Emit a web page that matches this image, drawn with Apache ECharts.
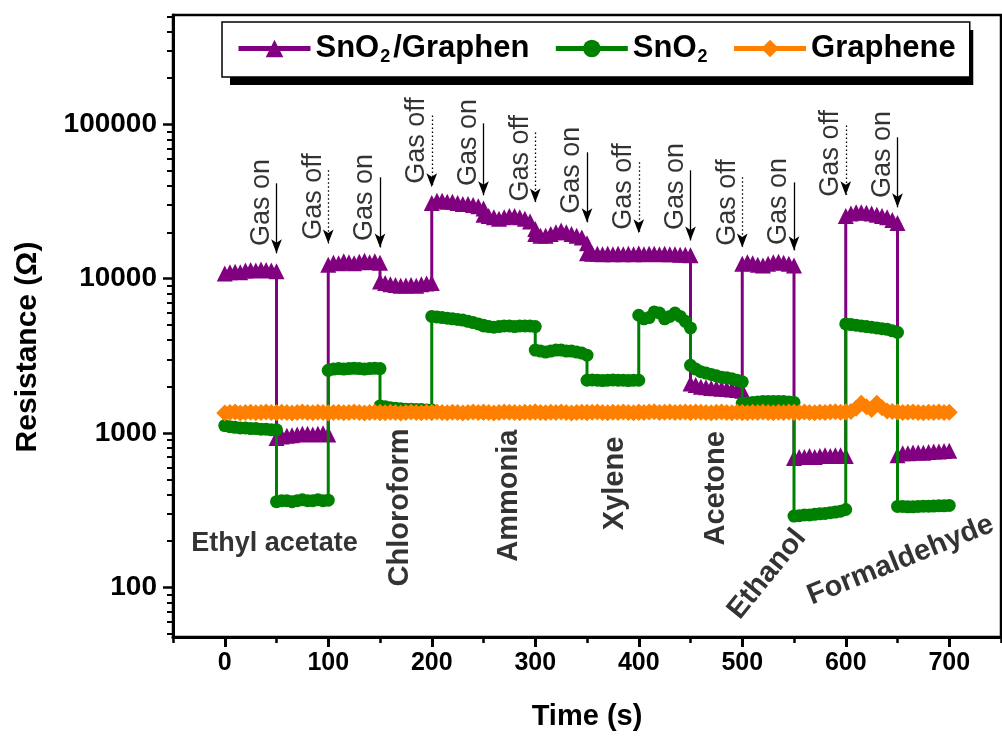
<!DOCTYPE html>
<html><head><meta charset="utf-8">
<script src="https://cdn.jsdelivr.net/npm/echarts@6/dist/echarts.min.js"></script>
<style>html,body{margin:0;padding:0;background:#fff}#c{width:1002px;height:737px}</style>
</head><body><div id="c"></div>
<script>
// ---- data ----
const segmentStarts = [0, 50, 100, 150, 200, 250, 300, 350, 400, 450, 500, 550, 600, 650];
const segmentOffsets = [0, 5, 10, 15, 20, 25, 30, 35, 40, 45, 50];

const compositeSegments = [ // SnO2/Graphen
  [10800, 11000, 11100, 11000, 11300, 11400, 11300, 11500, 11400, 11300, 11200],
  [930, 950, 960, 970, 980, 990, 990, 980, 990, 1000, 980],
  [12300, 12700, 12600, 13000, 12800, 12600, 12900, 13100, 12800, 13000, 12700],
  [9600, 9400, 9200, 9100, 9000, 9050, 9100, 9000, 9200, 9300, 9400],
  [31000, 32000, 32000, 31500, 31500, 31000, 30500, 30500, 30000, 29500, 28500],
  [26000, 25500, 25000, 24500, 25000, 25500, 25500, 25000, 24500, 23500, 21000],
  [19500, 19000, 19000, 19500, 20000, 20500, 20000, 19500, 19000, 18500, 17000],
  [14600, 14500, 14500, 14400, 14500, 14400, 14500, 14400, 14500, 14400, 14500],
  [14500, 14400, 14500, 14500, 14400, 14500, 14400, 14400, 14300, 14300, 14200],
  [2100, 2050, 2000, 1980, 1960, 1950, 1940, 1930, 1920, 1900, 1880],
  [12500, 12800, 12600, 12300, 12200, 12500, 12800, 12900, 12700, 12500, 12200],
  [690, 700, 700, 710, 700, 710, 720, 710, 720, 720, 710],
  [25500, 26500, 27000, 27000, 26800, 26500, 26000, 25500, 25000, 24000, 23000],
  [720, 740, 740, 750, 750, 745, 755, 760, 760, 765, 770]
];
const sno2Segments = [ // SnO2
  [1120, 1100, 1090, 1080, 1080, 1070, 1070, 1060, 1060, 1050, 1050],
  [360, 365, 365, 360, 365, 370, 365, 365, 370, 365, 368],
  [2550, 2600, 2620, 2600, 2620, 2630, 2620, 2600, 2620, 2630, 2620],
  [1500, 1480, 1460, 1450, 1440, 1430, 1430, 1420, 1420, 1410, 1410],
  [5700, 5650, 5600, 5550, 5500, 5450, 5400, 5300, 5200, 5100, 5000],
  [4950, 4900, 4850, 4900, 4950, 4950, 4900, 4950, 4950, 4950, 4900],
  [3450, 3400, 3350, 3400, 3450, 3450, 3400, 3400, 3350, 3300, 3200],
  [2200, 2210, 2200, 2190, 2200, 2210, 2200, 2200, 2190, 2200, 2200],
  [5800, 5500, 5600, 6100, 6000, 5500, 5700, 6000, 5700, 5300, 4800],
  [2750, 2600, 2500, 2450, 2400, 2350, 2300, 2280, 2250, 2200, 2150],
  [1560, 1570, 1580, 1590, 1600, 1600, 1600, 1600, 1600, 1590, 1580],
  [290, 292, 295, 295, 298, 300, 302, 305, 308, 312, 320],
  [5100, 5050, 5000, 4950, 4900, 4850, 4800, 4750, 4700, 4600, 4500],
  [335, 335, 333, 333, 335, 336, 336, 337, 338, 338, 340]
];
const grapheneSegments = [ // Graphene
  [1350, 1360, 1370, 1350, 1360, 1365, 1355, 1360, 1370, 1360, 1355],
  [1355, 1365, 1360, 1350, 1360, 1370, 1360, 1355, 1365, 1360, 1350],
  [1350, 1360, 1365, 1355, 1360, 1370, 1360, 1350, 1360, 1365, 1360],
  [1360, 1355, 1365, 1360, 1350, 1360, 1370, 1360, 1355, 1365, 1360],
  [1360, 1370, 1360, 1355, 1365, 1360, 1350, 1360, 1370, 1360, 1365],
  [1365, 1360, 1350, 1360, 1370, 1365, 1360, 1355, 1365, 1360, 1370],
  [1370, 1360, 1355, 1365, 1360, 1370, 1360, 1350, 1360, 1365, 1360],
  [1360, 1365, 1370, 1360, 1355, 1365, 1360, 1370, 1360, 1355, 1365],
  [1365, 1360, 1370, 1375, 1360, 1365, 1370, 1360, 1365, 1370, 1360],
  [1360, 1370, 1365, 1360, 1355, 1365, 1370, 1360, 1355, 1365, 1360],
  [1360, 1355, 1365, 1360, 1370, 1360, 1355, 1365, 1360, 1370, 1365],
  [1365, 1360, 1370, 1360, 1355, 1365, 1360, 1370, 1375, 1365, 1370],
  [1370, 1380, 1450, 1560, 1480, 1420, 1560, 1460, 1390, 1380, 1370],
  [1370, 1360, 1365, 1370, 1360, 1355, 1365, 1360, 1370, 1360, 1365]
];

const seriesNames = ['SnO2/Graphen', 'SnO2', 'Graphene'];
const seriesColors = ['#800080', '#008000', '#ff8000'];

const xMajorTicks = [0, 100, 200, 300, 400, 500, 600, 700];
const xMinorTicks = [-50, 50, 150, 250, 350, 450, 550, 650, 750];
const yMajorTicks = [100, 1000, 10000, 100000];
const yMinorTicks = [50, 60, 70, 80, 90, 200, 300, 400, 500, 600, 700, 800, 900,
  2000, 3000, 4000, 5000, 6000, 7000, 8000, 9000,
  20000, 30000, 40000, 50000, 60000, 70000, 80000, 90000,
  200000, 300000, 400000, 500000];

// gas switching annotations
const gasTimes   = [50, 100, 150, 200, 250, 300, 350, 400, 450, 500, 550, 600, 650];
const gasTexts   = ['Gas on', 'Gas off', 'Gas on', 'Gas off', 'Gas on', 'Gas off', 'Gas on', 'Gas off', 'Gas on', 'Gas off', 'Gas on', 'Gas off', 'Gas on'];
const gasLabelY  = [31200, 34100, 33600, 78700, 76400, 60300, 50400, 39600, 39600, 31200, 31700, 64900, 63900];
const arrowTop   = [41500, 50400, 45400, 114300, 101500, 88700, 65900, 56800, 50400, 45400, 42100, 98500, 82400];
const arrowBottom= [14600, 16900, 15960, 39100, 34700, 31200, 23200, 19700, 17700, 15960, 15270, 34700, 29000];

// analyte names
const analyteNames  = ['Ethyl acetate', 'Chloroform', 'Ammonia', 'Xylene', 'Acetone', 'Ethanol', 'Formaldehyde'];
const analyteX      = [48, 169, 275, 377, 475, 524, 653];
const analyteY      = [193, 330, 394, 472, 439, 122, 150];
const analyteRotate = [0, 90, 90, 90, 90, 51, 22];
const analyteSize   = [27, 29, 29, 29, 29, 29, 29];

// ---- build ----
function buildSeriesData(segments) {
  const out = [];
  segments.forEach((seg, i) => {
    seg.forEach((v, j) => out.push([segmentStarts[i] + segmentOffsets[j], v]));
  });
  return out;
}

const baseFont = "'Liberation Sans', Arial, sans-serif";

function legendRich(color) {
  return {
    a: { fontSize: 31, fontWeight: 'bold', fontFamily: baseFont, color: color },
    s: { fontSize: 18, fontWeight: 'bold', fontFamily: baseFont, color: color, padding: [17, 3, 0, 1] }
  };
}

const symbols = ['triangle', 'circle', 'diamond'];
const symbolSizes = [16, 13, 17];
const allSegments = [compositeSegments, sno2Segments, grapheneSegments];

const dataSeries = seriesNames.map((name, k) => ({
  name: name,
  type: 'line',
  data: buildSeriesData(allSegments[k]),
  symbol: symbols[k],
  symbolSize: symbolSizes[k],
  showAllSymbol: true,
  itemStyle: { color: seriesColors[k], borderWidth: 0 },
  lineStyle: { color: seriesColors[k], width: 3 },
  animation: false,
  z: 2 + k
}));

const gasLabelSeries = {
  type: 'scatter',
  silent: true,
  symbolSize: 0,
  data: gasTimes.map((t, i) => ({ value: [t, gasLabelY[i]], name: gasTexts[i] })),
  label: {
    show: true, formatter: p => p.name, rotate: 90,
    position: 'inside', offset: [0, -15],
    fontSize: 27, fontFamily: baseFont, color: '#000'
  },
  markLine: {
    silent: true,
    symbol: ['none', 'arrow'],
    symbolSize: [8, 14],
    label: { show: false },
    animation: false,
    data: gasTimes.map((t, i) => [
      { coord: [t, arrowTop[i]], lineStyle: { type: i % 2 === 1 ? [1.5, 2.5] : 'solid', color: '#000', width: 1.3 } },
      { coord: [t, arrowBottom[i]] }
    ])
  },
  animation: false,
  z: 10
};

const analyteSeries = {
  type: 'scatter',
  silent: true,
  symbolSize: 0,
  data: analyteNames.map((n, i) => ({
    value: [analyteX[i], analyteY[i]], name: n,
    label: { rotate: analyteRotate[i], fontSize: analyteSize[i] }
  })),
  label: {
    show: true, formatter: p => p.name, position: 'inside',
    fontWeight: 'bold', fontFamily: baseFont, color: '#000'
  },
  animation: false,
  z: 10
};

const legendFormatter = name => {
  if (name === 'SnO2/Graphen') return '{a|SnO}{s|2}{a|/Graphen}';
  if (name === 'SnO2') return '{a|SnO}{s|2}';
  return '{a|' + name + '}';
};
const legendCommon = {
  left: 222, top: 22,
  itemWidth: 72, itemHeight: 22, itemGap: 24,
  padding: [11, 14, 11, 14],
  data: seriesNames,
  formatter: legendFormatter
};

const chart = echarts.init(document.getElementById('c'), null, { renderer: 'canvas' });
chart.setOption({
  animation: false,
  backgroundColor: '#fff',
  grid: { left: 173, top: 15, right: 1, bottom: 100, show: true, borderColor: '#000', borderWidth: 2.5, containLabel: false },
  legend: [
    Object.assign({}, legendCommon, {
      z: 3,
      borderWidth: 0, backgroundColor: '#fff',
      shadowColor: '#000', shadowOffsetX: 8, shadowOffsetY: 8, shadowBlur: 0,
      itemStyle: { opacity: 0 }, lineStyle: { opacity: 0 },
      textStyle: { rich: legendRich('rgba(0,0,0,0)'), fontSize: 31, fontWeight: 'bold', color: 'rgba(0,0,0,0)' }
    }),
    Object.assign({}, legendCommon, {
      z: 4,
      borderColor: '#000', borderWidth: 1.5, backgroundColor: '#fff',
      lineStyle: { width: 5 },
      textStyle: { rich: legendRich('#000'), fontSize: 31, fontWeight: 'bold', color: '#000' }
    })
  ],
  xAxis: [{
    type: 'value', min: -50, max: 750,
    axisLine: { show: true, onZero: false, lineStyle: { color: '#000', width: 3 } },
    axisTick: { show: true, customValues: xMajorTicks, length: 10, lineStyle: { color: '#000', width: 3 } },
    axisLabel: { customValues: xMajorTicks, fontSize: 25, fontWeight: 'bold', fontFamily: baseFont, color: '#000', margin: 14 },
    splitLine: { show: false },
    name: 'Time (s)', nameLocation: 'middle', nameGap: 65,
    nameTextStyle: { fontSize: 29, fontWeight: 'bold', fontFamily: baseFont, color: '#000' }
  }, {
    type: 'value', min: -50, max: 750, position: 'bottom', gridIndex: 0,
    axisLine: { show: false, onZero: false },
    axisTick: { show: true, customValues: xMinorTicks, length: 6, lineStyle: { color: '#000', width: 2.5 } },
    axisLabel: { show: false }, splitLine: { show: false }
  }],
  yAxis: [{
    type: 'log', logBase: 10, min: 47.8, max: 511000,
    axisLine: { show: true, onZero: false, lineStyle: { color: '#000', width: 3 } },
    axisTick: { show: true, customValues: yMajorTicks, length: 10, lineStyle: { color: '#000', width: 2.5 } },
    axisLabel: { customValues: yMajorTicks, formatter: v => String(Math.round(v)), fontSize: 28, fontWeight: 'bold', fontFamily: baseFont, color: '#000', margin: 16 },
    minorTick: { show: false },
    splitLine: { show: false },
    name: 'Resistance (Ω)', nameLocation: 'middle', nameGap: 130,
    nameTextStyle: { fontSize: 30, fontWeight: 'bold', fontFamily: baseFont, color: '#000', padding: [0, 42, 0, 0] }
  }, {
    type: 'log', logBase: 10, min: 47.8, max: 511000, position: 'left', gridIndex: 0,
    axisLine: { show: false, onZero: false },
    axisTick: { show: true, customValues: yMinorTicks, length: 6, lineStyle: { color: '#000', width: 2 } },
    axisLabel: { show: false }, splitLine: { show: false }
  }],
  series: [...dataSeries, gasLabelSeries, analyteSeries]
});
</script>
</body></html>
